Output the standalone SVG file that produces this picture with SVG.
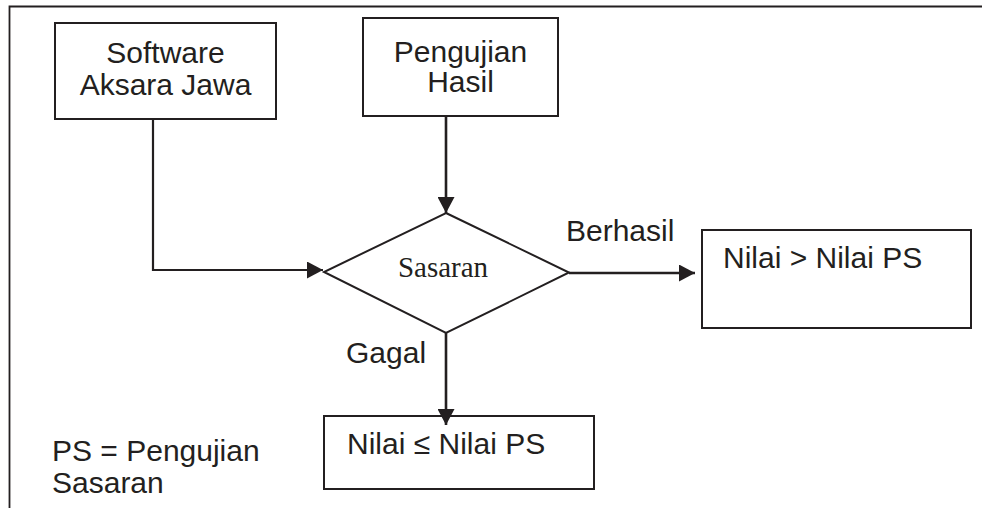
<svg xmlns="http://www.w3.org/2000/svg" width="982" height="508" viewBox="0 0 982 508">
<style>
.box{fill:#fff;stroke:#231f20;stroke-width:2}
.frame{fill:none;stroke:#231f20;stroke-width:1.8}
.con{fill:none;stroke:#231f20;stroke-width:2.6}
.t{font-family:"Liberation Sans",Arial,sans-serif;font-size:30px;fill:#231f20}
.s{font-family:"Liberation Serif","Times New Roman",serif;font-size:29px;fill:#231f20}
</style>
<defs>
<marker id="ah" markerUnits="userSpaceOnUse" markerWidth="17" markerHeight="17" viewBox="0 0 17 17" refX="16" refY="8.5" orient="auto">
<path d="M0,0 L16,8.5 L0,17 Z" fill="#231f20"/>
</marker>
</defs>
<rect width="982" height="508" fill="#fff"/>
<path class="frame" d="M9.5,508 V6.5 H982"/>
<g id="software">
<rect class="box" x="55" y="23" width="221" height="96"/>
<text class="t" x="165.5" y="63" text-anchor="middle">Software</text>
<text class="t" x="165.5" y="95" text-anchor="middle">Aksara Jawa</text>
</g>
<g id="pengujian">
<rect class="box" x="363" y="18" width="195" height="98"/>
<text class="t" x="460.5" y="62" text-anchor="middle">Pengujian</text>
<text class="t" x="460.5" y="92" text-anchor="middle">Hasil</text>
</g>
<g id="sasaran">
<path class="box" d="M446,213 L569,272.5 L446,333 L324,272 Z"/>
<text class="s" x="443" y="277" text-anchor="middle">Sasaran</text>
</g>
<g id="berhasil-label">
<text class="t" x="566" y="241">Berhasil</text>
</g>
<g id="gagal-label">
<text class="t" x="346" y="363">Gagal</text>
</g>
<g id="lebih">
<rect class="box" x="702" y="230" width="269" height="98"/>
<text class="t" x="723" y="268">Nilai &gt; Nilai PS</text>
</g>
<g id="kurang">
<rect class="box" x="324" y="416" width="270" height="73"/>
<text class="t" x="347" y="454">Nilai ≤ Nilai PS</text>
</g>
<g id="legend">
<text class="t" x="52" y="461">PS = Pengujian</text>
<text class="t" x="52" y="493">Sasaran</text>
</g>
<g id="connectors">
<path class="con" style="stroke-width:2.2" d="M153,119 V270 H323" marker-end="url(#ah)"/>
<path class="con" d="M446,116 V213" marker-end="url(#ah)"/>
<path class="con" d="M569,273 H695" marker-end="url(#ah)"/>
<path class="con" d="M446,333 V425" marker-end="url(#ah)"/>
</g>
</svg>
